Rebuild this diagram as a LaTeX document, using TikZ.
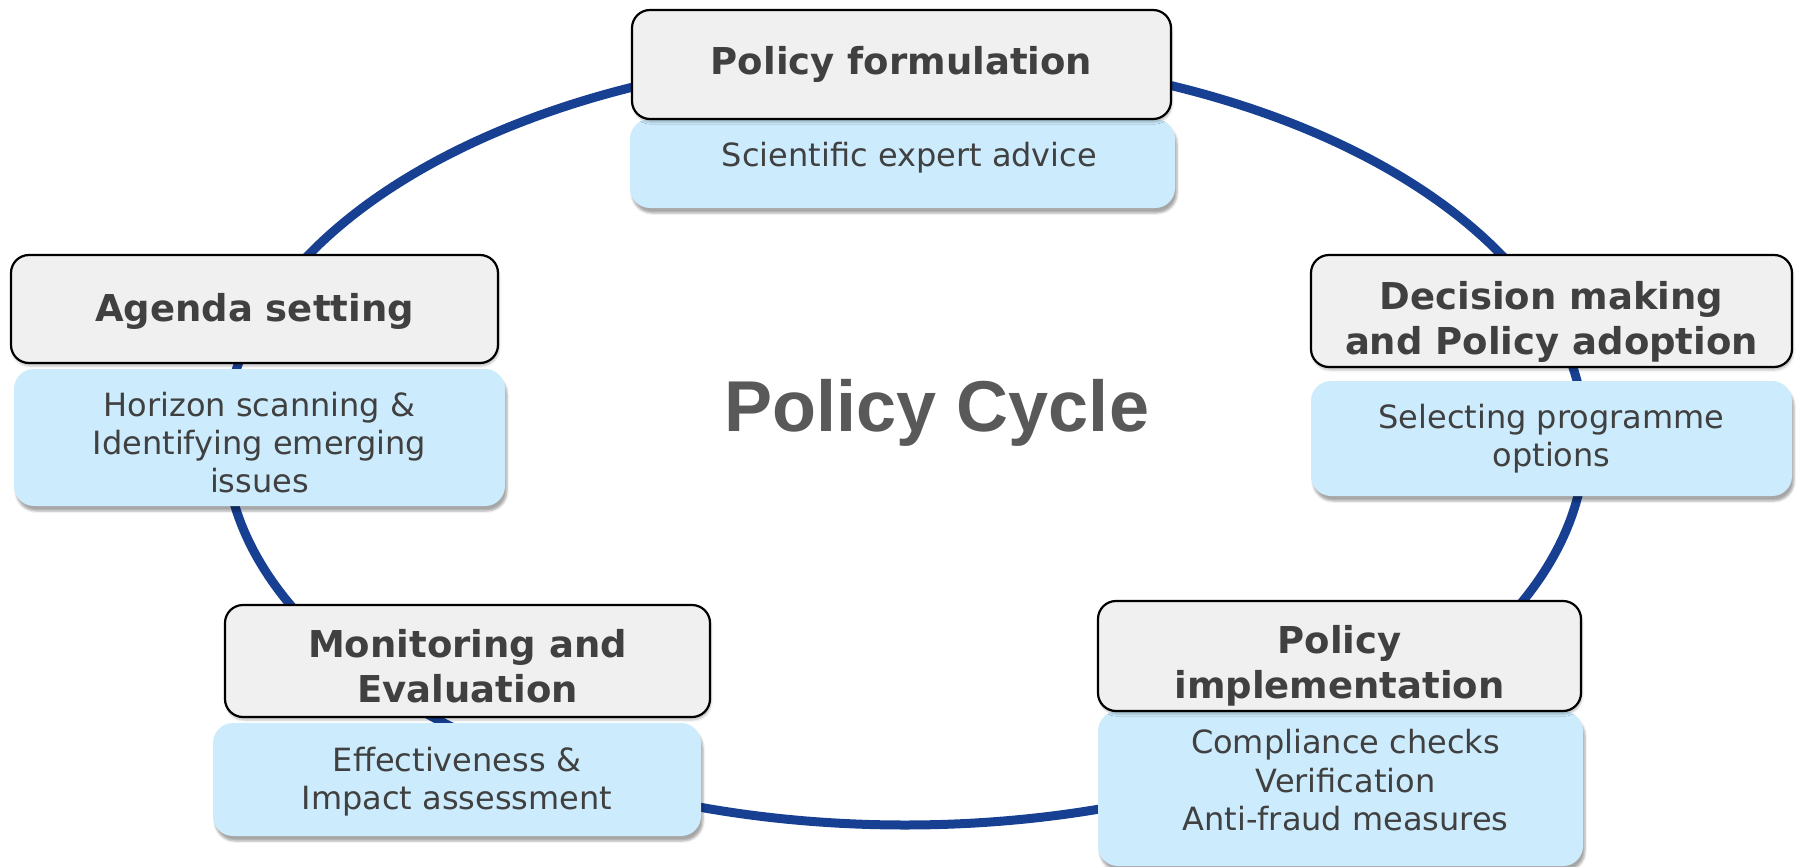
\documentclass[tikz,border=0pt]{standalone}
\usepackage{fontspec}
\setmainfont{DejaVu Sans}
\newfontfamily\cyclefont{Liberation Sans}
\usetikzlibrary{shadows.blur}
\definecolor{cycleblue}{RGB}{23,64,147}
\definecolor{stagegray}{RGB}{240,240,240}
\definecolor{noteblue}{RGB}{204,235,252}
\definecolor{textgray}{RGB}{64,64,64}
\definecolor{titlegray}{RGB}{89,89,89}
\tikzset{
  stage/.style={draw=black, line width=2.2pt, fill=stagegray, rounded corners=18pt,
    inner sep=0pt,
    blur shadow={shadow xshift=1pt, shadow yshift=-3pt, shadow opacity=25}},
  stagetext/.style={text=textgray, align=center, inner sep=0pt,
    font=\bfseries\fontsize{37}{45}\selectfont},
  note/.style={fill=noteblue, rounded corners=20pt, inner sep=0pt,
    blur shadow={shadow xshift=2pt, shadow yshift=-5pt, shadow opacity=35}},
  notetext/.style={text=textgray, align=center, inner sep=0pt,
    font=\fontsize{32}{38}\selectfont},
}
\begin{document}
\begin{tikzpicture}[x=1pt, y=-1pt]
  \useasboundingbox (0,0) rectangle (1799,867);
  % the cycle itself
  \draw[cycleblue, line width=9pt] (905,440) ellipse [x radius=680pt, y radius=385pt];
  \node[font=\cyclefont\bfseries\fontsize{72}{80}\selectfont, text=titlegray] (title) at (937,413) {Policy Cycle};
  % notes first, the stage boxes sit on top of them
  \node[note, minimum width=545pt, minimum height=89pt] (formulationnote) at (902.5,163.5) {};
  \node[notetext] (formulationnotetext) at ([xshift=7pt, yshift=6pt]formulationnote.center) {Scientific expert advice};
  \node[note, minimum width=491pt, minimum height=137pt] (agendanote) at (259.5,437.5) {};
  \node[notetext] (agendanotetext) at ([yshift=-5pt]agendanote.center) {Horizon scanning \&\\Identifying emerging\\issues};
  \node[note, minimum width=481pt, minimum height=115pt] (decisionnote) at (1551.5,438.5) {};
  \node[notetext] (decisionnotetext) at (decisionnote.center) {Selecting programme\\options};
  \node[note, minimum width=488pt, minimum height=113pt] (monitoringnote) at (457,779.5) {};
  \node[notetext] (monitoringnotetext) at ([yshift=-2pt]monitoringnote.center) {Effectiveness \&\\Impact assessment};
  \node[note, minimum width=485pt, minimum height=155pt] (implementationnote) at (1340.5,788.5) {};
  \node[notetext, font=\fontsize{32}{38.5}\selectfont] (implementationnotetext) at ([xshift=5pt, yshift=8pt]implementationnote.center) {Compliance checks\\Verification\\Anti-fraud measures};
  % stages
  \node[stage, minimum width=539pt, minimum height=109pt] (formulation) at (901.5,64.5) {};
  \node[stagetext] (formulationtext) at (formulation.center) {Policy formulation};
  \node[stage, minimum width=487pt, minimum height=108pt] (agenda) at (254.5,309) {};
  \node[stagetext] (agendatext) at ([yshift=-2pt]agenda.center) {Agenda setting};
  \node[stage, minimum width=481pt, minimum height=112pt] (decision) at (1551.5,311) {};
  \node[stagetext] (decisiontext) at ([yshift=-11pt]decision.center) {Decision making\\and Policy adoption};
  \node[stage, minimum width=485pt, minimum height=112pt] (monitoring) at (467.5,661) {};
  \node[stagetext] (monitoringtext) at ([yshift=-5pt]monitoring.center) {Monitoring and\\Evaluation};
  \node[stage, minimum width=483pt, minimum height=110pt] (implementation) at (1339.5,656) {};
  \node[stagetext] (implementationtext) at ([yshift=-10pt]implementation.center) {Policy\\implementation};
\end{tikzpicture}
\end{document}
